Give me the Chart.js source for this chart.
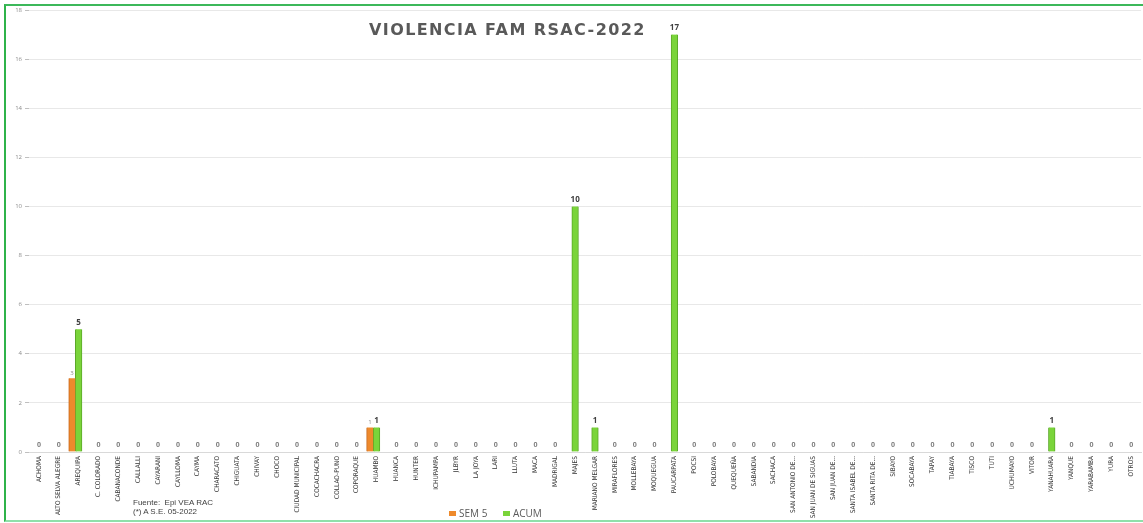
<!DOCTYPE html>
<html>
<head>
<meta charset="utf-8">
<script src="https://cdn.jsdelivr.net/npm/chart.js@4.4.1/dist/chart.umd.min.js"></script>
<style>
  html, body { margin: 0; padding: 0; background: #ffffff; }
  #wrap { position: relative; width: 1143px; height: 523px; overflow: hidden; }
  #c { position: absolute; left: 0; top: 0; }
  #frame { position: absolute; left: 4px; top: 4px; width: 1145px; height: 514px;
           border-left: 2px solid #2fb34a; border-top: 2px solid #3cb85a; border-bottom: 2px solid #8fe0aa;
           pointer-events: none; }
  #title { position: absolute; left: 369px; top: 20px; font-family: "DejaVu Sans", sans-serif; font-weight: bold;
           font-size: 16px; color: #595959; white-space: nowrap; letter-spacing: 1.4px; }
  #src { position: absolute; left: 133px; top: 499px; font-family: "Liberation Sans", Arial, sans-serif;
         font-size: 8px; line-height: 8.5px; color: #404040; white-space: pre; }
  #legend { position: absolute; left: 449px; top: 506px; font-family: "Open Sans", sans-serif; font-size: 10px;
            color: #595959; white-space: nowrap; }
  #legend span.sw { display: inline-block; width: 7px; height: 5px; margin-right: 3px; vertical-align: 1px; }
</style>
</head>
<body>
<div id="wrap">
  <canvas id="c" width="1143" height="523"></canvas>
  <div id="title">VIOLENCIA FAM RSAC-2022</div>
  <div id="src">Fuente:  Epi VEA RAC
(*) A S.E. 05-2022</div>
  <div id="legend"><span class="sw" style="background:#ee8a2c"></span>SEM 5&nbsp;&nbsp;&nbsp;&nbsp;&nbsp;&nbsp;<span class="sw" style="background:#7ad43a"></span>ACUM</div>
  <div id="frame"></div>
</div>
<script>
const categories = ["ACHOMA","ALTO SELVA ALEGRE","AREQUIPA","C. COLORADO","CABANACONDE","CALLALLI","CAYARANI","CAYLLOMA","CAYMA","CHARACATO","CHIGUATA","CHIVAY","CHOCO","CIUDAD MUNICIPAL","COCACHACRA","COLLAO-PUNO","COPORAQUE","HUAMBO","HUANCA","HUNTER","ICHUPAMPA","JLBYR","LA JOYA","LARI","LLUTA","MACA","MADRIGAL","MAJES","MARIANO MELGAR","MIRAFLORES","MOLLEBAYA","MOQUEGUA","PAUCARPATA","POCSI","POLOBAYA","QUEQUEÑA","SABANDIA","SACHACA","SAN ANTONIO DE...","SAN JUAN DE SIGUAS","SAN JUAN DE...","SANTA ISABEL DE...","SANTA RITA DE...","SIBAYO","SOCABAYA","TAPAY","TIABAYA","TISCO","TUTI","UCHUMAYO","VITOR","YANAHUARA","YANQUE","YARABAMBA","YURA","OTROS"];

// SEM 5 (only non-empty where reported)
const sem5 = [null,null,3,null,null,null,null,null,null,null,null,null,null,null,null,null,null,1,null,null,null,null,null,null,null,null,null,null,null,null,null,null,null,null,null,null,null,null,null,null,null,null,null,null,null,null,null,null,null,null,null,null,null,null,null,null];
// ACUM
const acum = [0,0,5,0,0,0,0,0,0,0,0,0,0,0,0,0,0,1,0,0,0,0,0,0,0,0,0,10,1,0,0,0,17,0,0,0,0,0,0,0,0,0,0,0,0,0,0,0,0,0,0,1,0,0,0,0];
const yTicks = [0,2,4,6,8,10,12,14,16,18];
const spacer = categories.map(() => null);

const labelPlugin = {
  id: 'valueLabels',
  afterDatasetsDraw(chart) {
    const ctx = chart.ctx;
    ctx.save();
    ctx.textAlign = 'center';
    ctx.textBaseline = 'bottom';
    chart.data.datasets.forEach((ds, di) => {
      if (ds.label === '_spacer') return;
      const meta = chart.getDatasetMeta(di);
      meta.data.forEach((el, i) => {
        const v = ds.data[i];
        if (v === null || v === undefined) return;
        if (ds.label === 'SEM 5') {
          ctx.font = '6px "Open Sans", sans-serif';
          ctx.fillStyle = '#8c8c8c';
          ctx.fillText(String(v), el.x, el.y - 2);
        } else if (v === 0) {
          ctx.font = 'bold 7px "Open Sans", sans-serif';
          ctx.fillStyle = '#7f7f7f';
          ctx.fillText('0', el.x, el.y - 4);
        } else {
          ctx.font = 'bold 8px "Open Sans", sans-serif';
          ctx.fillStyle = '#404040';
          ctx.fillText(String(v), el.x, el.y - 3);
        }
      });
    });
    ctx.restore();
  }
};

new Chart(document.getElementById('c'), {
  type: 'bar',
  data: {
    labels: categories,
    datasets: [
      { label: 'SEM 5', data: sem5, backgroundColor: '#ee8a2c', borderColor: '#c8661a', borderWidth: {left:1,right:0,top:0,bottom:0} },
      { label: 'ACUM', data: acum, backgroundColor: '#7ad43a', borderColor: '#5aa828', borderWidth: {left:1,right:1,top:0,bottom:0} },
      { label: '_spacer', data: spacer, backgroundColor: 'rgba(0,0,0,0)' }
    ]
  },
  options: {
    responsive: false,
    animation: false,
    events: [],
    layout: { padding: { top: 10, right: 0, left: 0, bottom: 0 } },
    plugins: { legend: { display: false }, title: { display: false }, tooltip: { enabled: false } },
    datasets: { bar: { categoryPercentage: 1.0, barPercentage: 1.0 } },
    scales: {
      x: {
        grid: { display: false, drawTicks: false },
        border: { display: true, color: '#d9d9d9' },
        ticks: {
          autoSkip: false, maxRotation: 90, minRotation: 90, padding: 4,
          font: { family: '"DejaVu Sans Condensed", "Liberation Sans Narrow", sans-serif', size: 6.5 },
          color: '#333333'
        },
        afterFit(scale) { scale.height = 71; }
      },
      y: {
        min: 0, max: 18,
        afterBuildTicks(scale) { scale.ticks = yTicks.map(v => ({ value: v })); },
        grid: { color: '#e8e8e8', lineWidth: 1, tickLength: 4, tickColor: '#bfbfbf' },
        border: { display: false },
        ticks: { font: { family: '"Open Sans", sans-serif', size: 6 }, color: '#8c8c8c', padding: 3 },
        afterFit(scale) { scale.width = 29; }
      }
    }
  },
  plugins: [labelPlugin]
});
</script>
</body>
</html>
